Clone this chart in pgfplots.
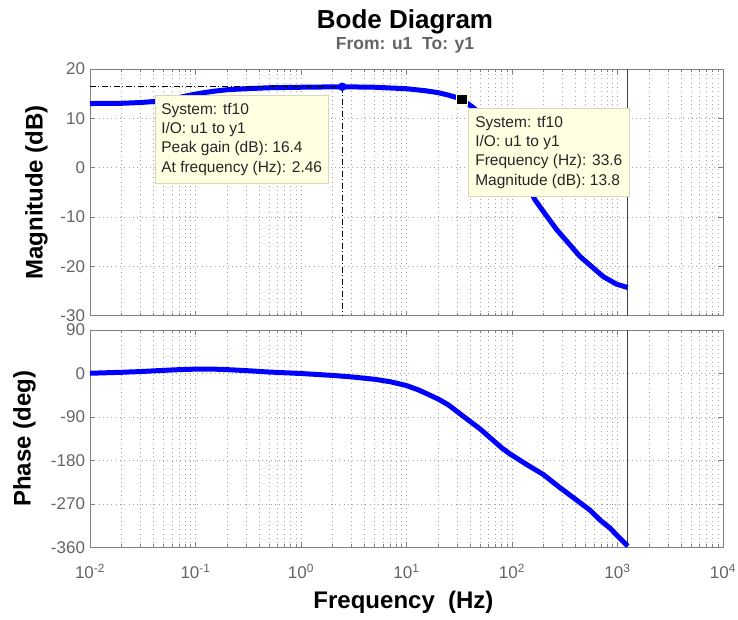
\documentclass[border=0pt]{standalone}
\usepackage{fontspec}
\setmainfont{Liberation Sans}
\usepackage{pgfplots}
\pgfplotsset{compat=1.18}
\usetikzlibrary{calc}

\definecolor{tickgray}{RGB}{100,100,100}
\definecolor{boxgray}{RGB}{128,128,128}
\definecolor{gridgray}{RGB}{165,165,165}
\definecolor{tipfill}{RGB}{255,255,225}
\definecolor{tipedge}{RGB}{215,215,185}
\definecolor{mblue}{RGB}{0,0,255}
\definecolor{nyq}{RGB}{64,64,64}
\definecolor{subgray}{RGB}{100,100,100}

\pgfplotsset{
  every axis/.append style={
    scale only axis, width=633pt,
    xmin=0.01, xmax=10000,
    xtick={0.01,0.1,1,10,100,1000,10000},
    minor xtick={0.02,0.03,0.04,0.05,0.06,0.07,0.08,0.09,0.2,0.3,0.4,0.5,0.6,0.7,0.8,0.9,2,3,4,5,6,7,8,9,20,30,40,50,60,70,80,90,200,300,400,500,600,700,800,900,2000,3000,4000,5000,6000,7000,8000,9000},
    xmajorgrids=true, xminorgrids=true, ymajorgrids=true,
    major grid style={gridgray, line width=0.6pt, dash pattern=on 0.8pt off 3.5pt},
    minor grid style={gridgray, line width=0.6pt, dash pattern=on 0.8pt off 3.5pt},
    axis line style={boxgray, line width=0.8pt},
    tick style={boxgray, line width=0.6pt},
    major tick length=5pt, minor tick length=3pt,
    tick label style={font=\fontsize{17}{19}\selectfont, text=tickgray},
    yticklabel style={xshift=-1.5pt},
    xticklabel style={anchor=base, yshift=-30.8pt},
  },
  every axis y label/.style={rotate=90, anchor=north, inner sep=0pt,
      font=\fontsize{24}{26}\selectfont\bfseries},
  every axis x label/.style={anchor=base, inner sep=0pt,
      font=\fontsize{24}{26}\selectfont\bfseries},
}
\tikzset{
  mytip/.style={anchor=north west, fill=tipfill, draw=tipedge, line width=0.6pt,
    align=left, inner xsep=6pt, inner ysep=8pt, text=black!85,
    font=\fontsize{15.5}{19.2}\selectfont}
}

\begin{document}
\begin{tikzpicture}
\path[use as bounding box] (0pt,0pt) rectangle (738pt,620pt);

% ---------- Magnitude ----------
\begin{semilogxaxis}[at={(90pt,304.3pt)}, anchor=south west, height=246.7pt,
  ymin=-30, ymax=20, ytick={-30,-20,-10,0,10,20},
  yticklabels={-30,-20,-10,0,10,20},
  xticklabels={},
  ylabel={Magnitude (dB)},
  ylabel style={at={($(rel axis cs:0,0.5)+(-65pt,0pt)$)}},
]
\addplot[nyq, line width=1pt] coordinates {(1250,-30) (1250,20)};
\addplot[mblue, line width=5pt, line join=round] coordinates {
(0.01,13.0) (0.02,13.05) (0.03,13.2) (0.04,13.4) (0.06,13.9) (0.08,14.5)
(0.1,14.9) (0.12,15.2) (0.15,15.5) (0.2,15.8) (0.3,16.0) (0.5,16.2)
(1,16.3) (2.46,16.4) (5,16.3) (10,16.0) (15,15.6) (20,15.2) (25,14.7)
(30,14.2) (33.6,13.8) (41.5,12.4) (50,11.0) (60,9.2) (70,7.4) (85,4.7)
(100,2.2) (120,-0.8) (140,-3.5) (165,-6.5) (200,-9.0) (266,-12.6)
(340,-15.2) (441,-18.0) (580,-20.2) (735,-22.1) (978,-23.6) (1250,-24.3)
};
\addplot[black, line width=0.8pt, dash pattern=on 6pt off 2.5pt on 1pt off 2.5pt]
  coordinates {(0.01,16.4) (2.46,16.4) (2.46,-30)};
\addplot[only marks, mark=*, mark size=4pt, mblue] coordinates {(2.46,16.4)};
\addplot[only marks, mark=square*, mark size=5.5pt, draw=tipfill, fill=black,
  line width=1.2pt] coordinates {(33.6,13.8)};
\node[mytip] at (rel axis cs:0.1027,0.8946)
  {System: tf10\\I/O: u1 to y1\\Peak gain (dB): 16.4\\At frequency (Hz): 2.46};
\node[mytip, inner xsep=7pt] at (rel axis cs:0.5972,0.8419)
  {System: tf10\\I/O: u1 to y1\\Frequency (Hz): 33.6\\Magnitude (dB): 13.8};
\end{semilogxaxis}

% ---------- Phase ----------
\begin{semilogxaxis}[at={(90pt,72.5pt)}, anchor=south west, height=217.5pt,
  ymin=-360, ymax=90, ytick={-360,-270,-180,-90,0,90},
  yticklabels={-360,-270,-180,-90,0,90},
  xticklabels={10\textsuperscript{-2},10\textsuperscript{-1},10\textsuperscript{0},10\textsuperscript{1},10\textsuperscript{2},10\textsuperscript{3},10\textsuperscript{4}},
  ylabel={Phase (deg)},
  ylabel style={at={($(rel axis cs:0,0.5)+(-77pt,0pt)$)}},
  xlabel={Frequency~~(Hz)},
  xlabel style={at={($(rel axis cs:0.5,0)+(-3pt,-60.8pt)$)}},
]
\addplot[nyq, line width=1pt] coordinates {(1250,-360) (1250,90)};
\addplot[mblue, line width=5pt, line join=round] coordinates {
(0.01,0.5) (0.02,2.5) (0.03,4) (0.05,6.5) (0.07,8) (0.1,9) (0.15,9)
(0.2,8) (0.3,6) (0.5,3) (1,0) (2,-4) (3,-7) (5,-12) (7,-17) (10,-25)
(13,-34) (16,-43) (20,-53) (25,-65) (32,-83) (40,-99) (50,-115) (66,-138)
(80,-154) (95,-166) (137,-188) (198,-209) (284,-236) (410,-262) (550,-283)
(682,-303) (850,-320) (980,-334) (1250,-357)
};
\end{semilogxaxis}

\node[anchor=base, font=\fontsize{26}{28}\selectfont\bfseries] at (405pt,591.7pt) {Bode Diagram};
\node[anchor=base, font=\fontsize{17.5}{19}\selectfont\bfseries, text=subgray] at (405pt,570.7pt) {From: u1~~To: y1};
\end{tikzpicture}
\end{document}
